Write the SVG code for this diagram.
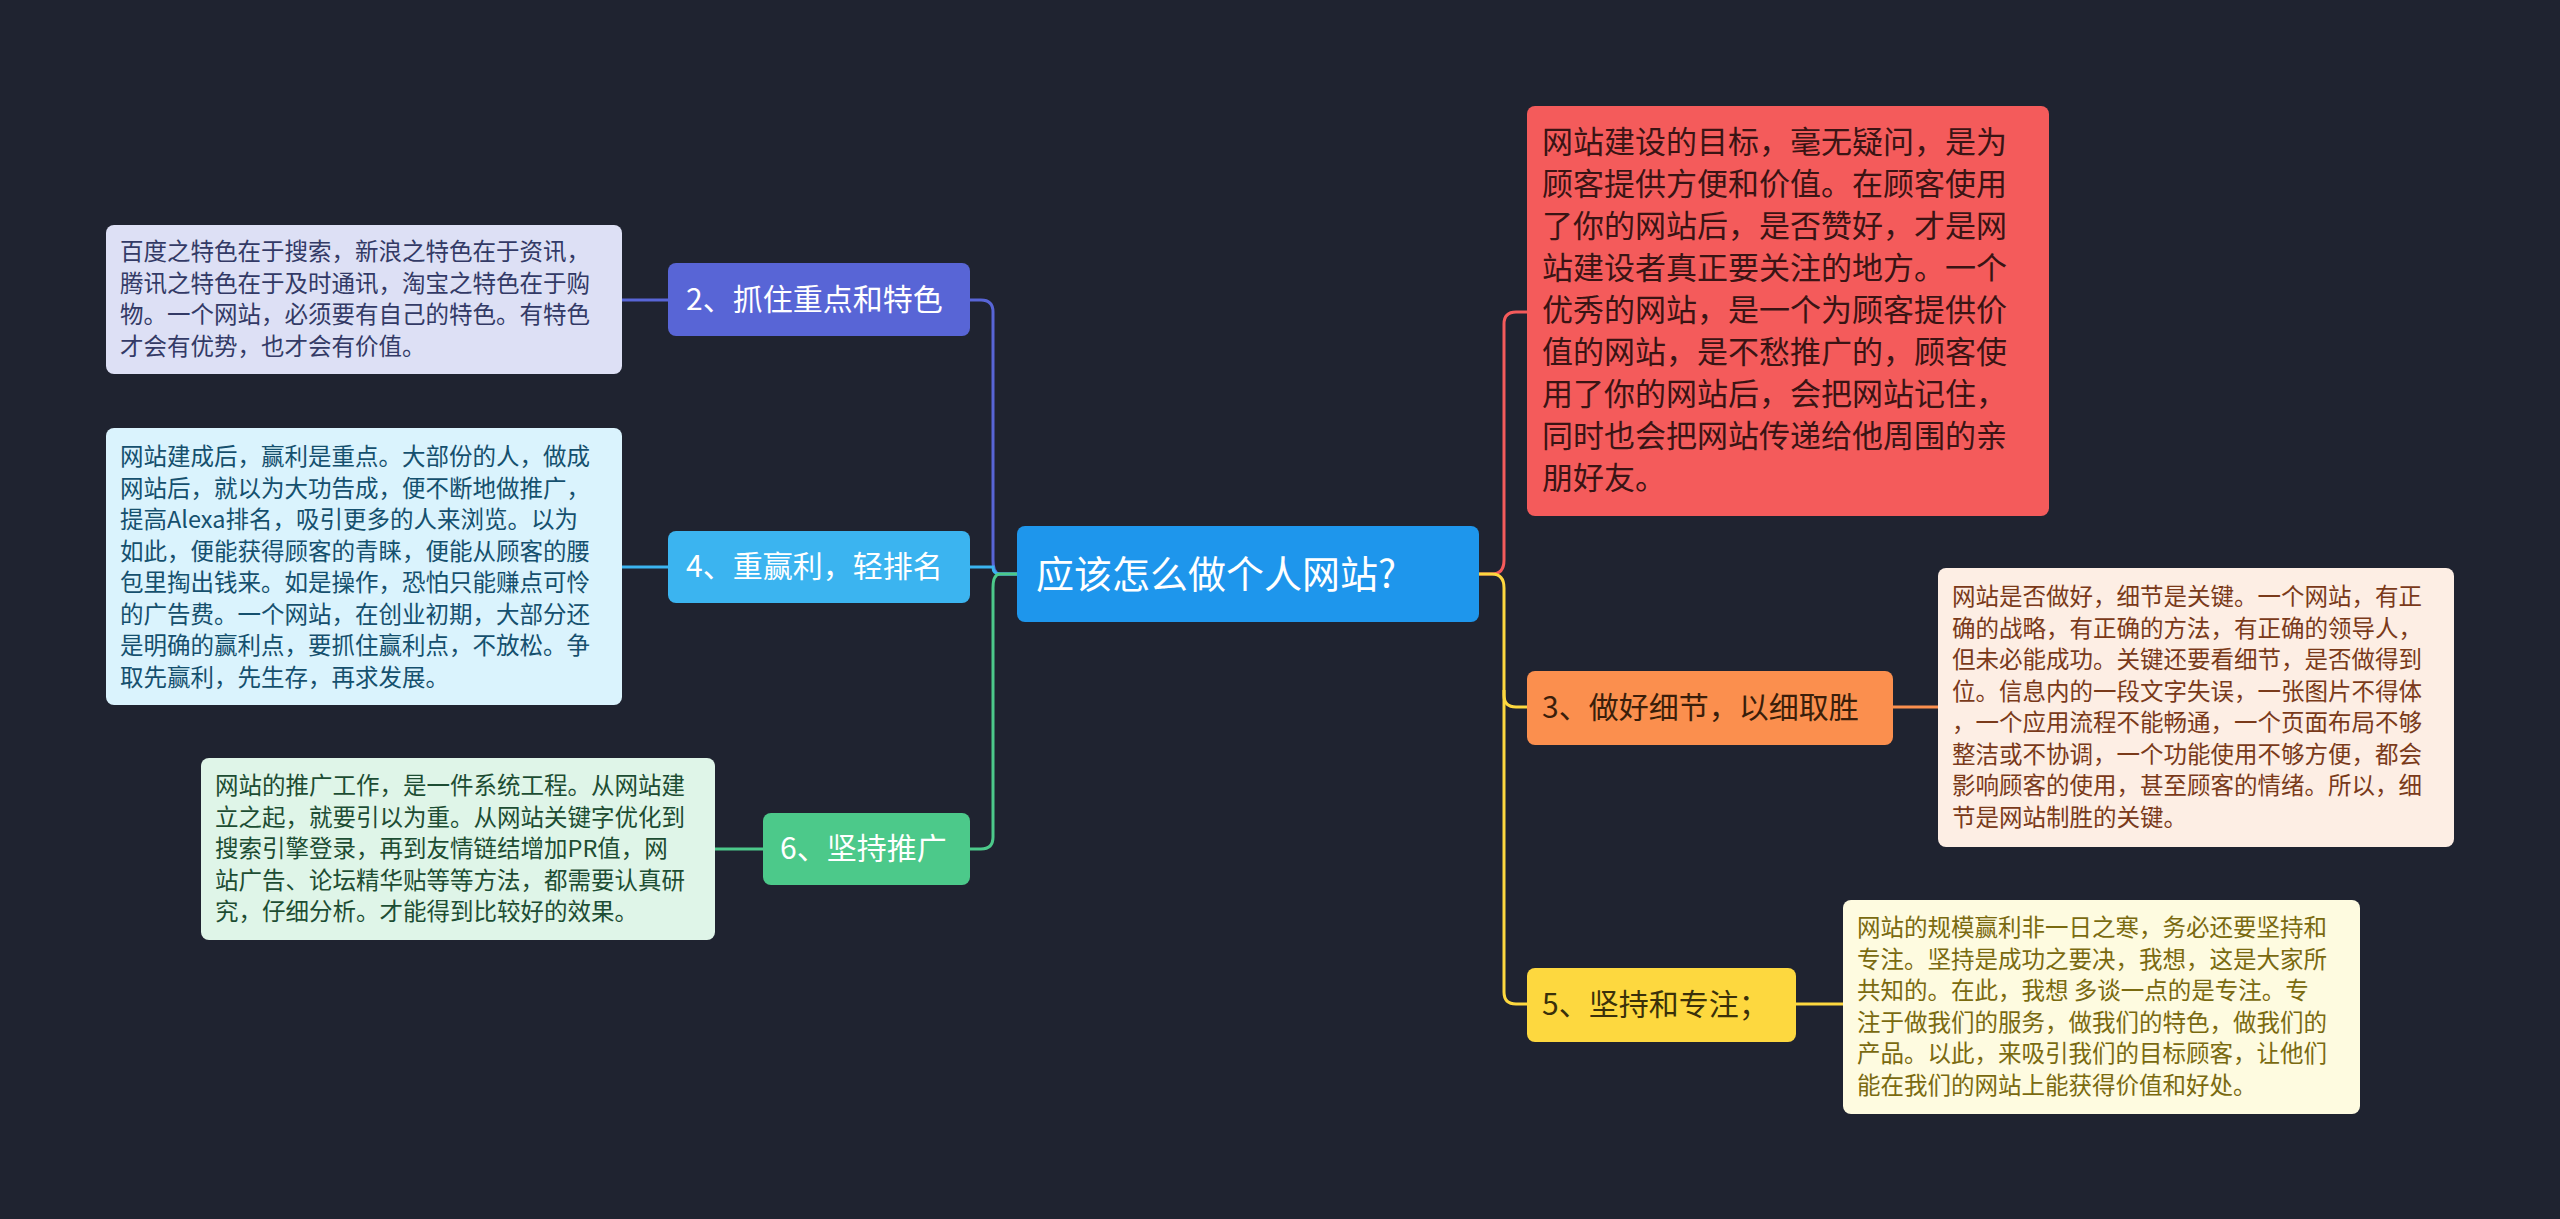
<svg xmlns="http://www.w3.org/2000/svg" width="2560" height="1219" viewBox="0 0 2560 1219">
<style>
text{font-family:"Noto Sans CJK SC","Noto Sans",sans-serif}
.d{font-size:23.5px}
.n{font-size:30px;fill:#fff}
.c{fill:none;stroke-width:3}
</style>
<rect width="2560" height="1219" fill="#1f2330"/>
<g id="connectors">
<path class="c" stroke="#5865d6" d="M1017 574H1000Q993 574 993 560V312Q993 300 981 300H970"/>
<path class="c" stroke="#3bb4f0" d="M1017 574H1000Q993 574 993 567H970"/>
<path class="c" stroke="#4cc98a" d="M1017 574H1000Q993 574 993 588V837Q993 849 981 849H970"/>
<path class="c" stroke="#5865d6" d="M622 300H668"/>
<path class="c" stroke="#3bb4f0" d="M622 567H668"/>
<path class="c" stroke="#4cc98a" d="M715 849H763"/>
<path class="c" stroke="#f45b5b" d="M1479 574H1492Q1504 574 1504 560V324Q1504 312 1516 312H1527"/>
<path class="c" stroke="#fdd83f" d="M1479 574H1492Q1504 574 1504 588V695Q1504 707 1516 707H1527"/>
<path class="c" stroke="#fdd83f" d="M1504 690V992Q1504 1004 1516 1004H1527"/>
<path class="c" stroke="#fb8f4e" d="M1893 707H1938"/>
<path class="c" stroke="#fdd83f" d="M1796 1004H1843"/>
</g>
<g id="center"><rect x="1017" y="526" width="462" height="96" rx="8" fill="#1e96ec"/><text x="1036" y="588" font-size="38" fill="#fff">应该怎么做个人网站?</text></g>
<g id="n2"><rect x="668" y="263" width="302" height="73" rx="8" fill="#5865d6"/><text class="n" x="686" y="310">2、抓住重点和特色</text></g>
<g id="n4"><rect x="668" y="531" width="302" height="72" rx="8" fill="#3bb4f0"/><text class="n" x="686" y="577">4、重赢利，轻排名</text></g>
<g id="n6"><rect x="763" y="813" width="207" height="72" rx="8" fill="#4cc98a"/><text class="n" x="780" y="859">6、坚持推广</text></g>
<g id="d2"><rect x="106" y="225" width="516" height="149" rx="8" fill="#dde0f5"/><text class="d" fill="#333a66"><tspan x="120" y="260">百度之特色在于搜索，新浪之特色在于资讯，</tspan><tspan x="120" y="291.5">腾讯之特色在于及时通讯，淘宝之特色在于购</tspan><tspan x="120" y="323">物。一个网站，必须要有自己的特色。有特色</tspan><tspan x="120" y="354.5">才会有优势，也才会有价值。</tspan></text></g>
<g id="d4"><rect x="106" y="428" width="516" height="277" rx="8" fill="#daf3fd"/><text class="d" fill="#15506e"><tspan x="120" y="465">网站建成后，赢利是重点。大部份的人，做成</tspan><tspan x="120" y="496.5">网站后，就以为大功告成，便不断地做推广，</tspan><tspan x="120" y="528">提高Alexa排名，吸引更多的人来浏览。以为</tspan><tspan x="120" y="559.5">如此，便能获得顾客的青睐，便能从顾客的腰</tspan><tspan x="120" y="591">包里掏出钱来。如是操作，恐怕只能赚点可怜</tspan><tspan x="120" y="622.5">的广告费。一个网站，在创业初期，大部分还</tspan><tspan x="120" y="654">是明确的赢利点，要抓住赢利点，不放松。争</tspan><tspan x="120" y="685.5">取先赢利，先生存，再求发展。</tspan></text></g>
<g id="d6"><rect x="201" y="758" width="514" height="182" rx="8" fill="#dff5e8"/><text class="d" fill="#1d4d33"><tspan x="215" y="794">网站的推广工作，是一件系统工程。从网站建</tspan><tspan x="215" y="825.5">立之起，就要引以为重。从网站关键字优化到</tspan><tspan x="215" y="857">搜索引擎登录，再到友情链结增加PR值，网</tspan><tspan x="215" y="888.5">站广告、论坛精华贴等等方法，都需要认真研</tspan><tspan x="215" y="920">究，仔细分析。才能得到比较好的效果。</tspan></text></g>
<g id="n1"><rect x="1527" y="106" width="522" height="410" rx="8" fill="#f45b5b"/><text font-size="31" fill="#3a1414"><tspan x="1542" y="153">网站建设的目标，毫无疑问，是为</tspan><tspan x="1542" y="195">顾客提供方便和价值。在顾客使用</tspan><tspan x="1542" y="237">了你的网站后，是否赞好，才是网</tspan><tspan x="1542" y="279">站建设者真正要关注的地方。一个</tspan><tspan x="1542" y="321">优秀的网站，是一个为顾客提供价</tspan><tspan x="1542" y="363">值的网站，是不愁推广的，顾客使</tspan><tspan x="1542" y="405">用了你的网站后，会把网站记住，</tspan><tspan x="1542" y="447">同时也会把网站传递给他周围的亲</tspan><tspan x="1542" y="489">朋好友。</tspan></text></g>
<g id="n3"><rect x="1527" y="671" width="366" height="74" rx="8" fill="#fb8f4e"/><text class="n" x="1542" y="718" fill="#3a1e0a" style="fill:#3a1e0a">3、做好细节，以细取胜</text></g>
<g id="d3"><rect x="1938" y="568" width="516" height="279" rx="8" fill="#fdeee4"/><text class="d" fill="#7a3a1a"><tspan x="1952" y="605">网站是否做好，细节是关键。一个网站，有正</tspan><tspan x="1952" y="636.5">确的战略，有正确的方法，有正确的领导人，</tspan><tspan x="1952" y="668">但未必能成功。关键还要看细节，是否做得到</tspan><tspan x="1952" y="699.5">位。信息内的一段文字失误，一张图片不得体</tspan><tspan x="1952" y="731">，一个应用流程不能畅通，一个页面布局不够</tspan><tspan x="1952" y="762.5">整洁或不协调，一个功能使用不够方便，都会</tspan><tspan x="1952" y="794">影响顾客的使用，甚至顾客的情绪。所以，细</tspan><tspan x="1952" y="825.5">节是网站制胜的关键。</tspan></text></g>
<g id="n5"><rect x="1527" y="968" width="269" height="74" rx="8" fill="#fdd83f"/><text class="n" x="1542" y="1015" style="fill:#3a300a">5、坚持和专注；</text></g>
<g id="d5"><rect x="1843" y="900" width="517" height="214" rx="8" fill="#fefbe0"/><text class="d" fill="#7a6a10"><tspan x="1857" y="936">网站的规模赢利非一日之寒，务必还要坚持和</tspan><tspan x="1857" y="967.5">专注。坚持是成功之要决，我想，这是大家所</tspan><tspan x="1857" y="999">共知的。在此，我想 多谈一点的是专注。专</tspan><tspan x="1857" y="1030.5">注于做我们的服务，做我们的特色，做我们的</tspan><tspan x="1857" y="1062">产品。以此，来吸引我们的目标顾客，让他们</tspan><tspan x="1857" y="1093.5">能在我们的网站上能获得价值和好处。</tspan></text></g>
</svg>
